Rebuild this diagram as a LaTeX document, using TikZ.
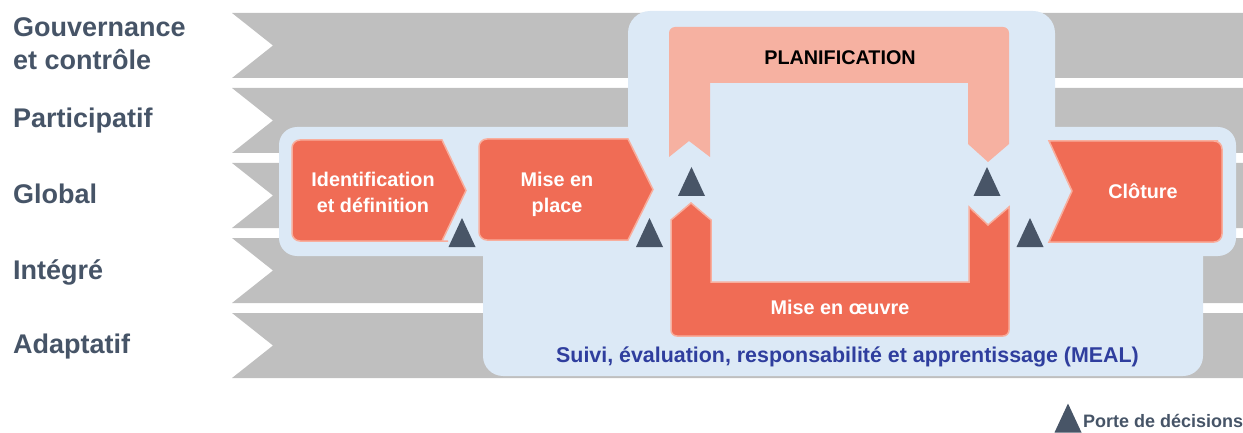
\documentclass[tikz,border=0pt]{standalone}
\usepackage{fontspec}
\setmainfont{Liberation Sans}
\definecolor{bandgray}{HTML}{BFBFBF}
\definecolor{bgblue}{HTML}{DCE9F6}
\definecolor{coral}{HTML}{F06C55}
\definecolor{coralborder}{HTML}{F8AE9D}
\definecolor{salmon}{HTML}{F6B1A1}
\definecolor{gatecol}{HTML}{485567}
\definecolor{labelcol}{HTML}{465467}
\definecolor{mealcol}{HTML}{2F3E9E}
\newcommand\gatetri[2]{\fill[gate] ({#1-13.5},#2) -- ({#1+13.5},#2) -- (#1,{#2-29}) -- cycle;}
\newcommand\grayband[1]{\fill[band] (232,#1) -- (1243,#1) -- (1243,{#1+65}) -- (232,{#1+65}) -- (273,{#1+32.5}) -- cycle;}
\begin{document}
\begin{tikzpicture}[x=1pt,y=-1pt,
  band/.style={fill=bandgray},
  bluebg/.style={fill=bgblue},
  phase/.style={fill=coral, draw=coralborder, line width=1.5pt, line join=miter},
  plan/.style={fill=salmon},
  gate/.style={fill=gatecol},
  lbl/.style={anchor=base west, inner sep=0, text=labelcol, font=\fontsize{27}{32}\selectfont\bfseries},
  ptxt/.style={anchor=base, inner sep=0, text=white, font=\fontsize{19.8}{24}\selectfont\bfseries},
  btxt/.style={anchor=base, inner sep=0, text=black, font=\fontsize{19.8}{24}\selectfont\bfseries},
  mtxt/.style={anchor=base, inner sep=0, text=mealcol, font=\fontsize{21.4}{26}\selectfont\bfseries},
  legtxt/.style={anchor=base west, inner sep=0, text=labelcol, font=\fontsize{18}{22}\selectfont\bfseries}]
\useasboundingbox (0,0) rectangle (1243,433);

% gray bands
\grayband{13}
\grayband{88}
\grayband{163}
\grayband{238}
\grayband{313}

% left labels
\node[lbl] (gov1) at (13,37) {Gouvernance};
\node[lbl] (gov2) at (13,70) {et contrôle};
\node[lbl] (part) at (13,128) {Participatif};
\node[lbl] (glob) at (13,204) {Global};
\node[lbl] (integ) at (13,279) {Intégré};
\node[lbl] (adapt) at (13,353) {Adaptatif};

% light blue background
\fill[bluebg, rounded corners=22] (628,11) rectangle (1055,200);
\fill[bluebg, rounded corners=18] (279,127) rectangle (1236,256);
\fill[bluebg, rounded corners=20] (483,200) rectangle (1203,376);

% planification
\fill[plan] (689,141) -- (669,157) -- (669,40) [rounded corners=6] -- (669,27) -- (1009,27) -- (1009,40) [sharp corners] -- (1009,144) -- (988,162) -- (968,144) -- (968,83) -- (710,83) -- (710,157) -- cycle;
\node[btxt] (plantxt) at (840,65) {PLANIFICATION};

% mise en oeuvre
\draw[phase] (691,203) -- (711,220) -- (711,282) -- (969,282) -- (969,207) -- (988,225) -- (1009,207) -- (1009,325) [rounded corners=6] -- (1009,336) -- (671,336) -- (671,325) [sharp corners] -- (671,220) -- cycle;
\node[ptxt] (oeuvre) at (840,314) {Mise en œuvre};

% identification
\draw[phase] (466,190.5) -- (442,140) -- (440,140) [rounded corners=8] -- (292,140) -- (292,241) -- (440,241) [sharp corners] -- (442,241) -- cycle;
\node[ptxt] (id1) at (373,186) {Identification};
\node[ptxt] (id2) at (373,212) {et définition};

% mise en place
\draw[phase] (653,189.5) -- (628,139) -- (620,139) [rounded corners=8] -- (479,139) -- (479,240) -- (620,240) [sharp corners] -- (628,240) -- cycle;
\node[ptxt] (mp1) at (557,186) {Mise en};
\node[ptxt] (mp2) at (557,212) {place};

% cloture
\draw[phase] (1049,141) -- (1072,191) -- (1049,242) -- (1210,242) [rounded corners=8] -- (1222,242) -- (1222,141) -- (1210,141) [sharp corners] -- cycle;
\node[ptxt] (clot) at (1143,199) {Clôture};

% MEAL
\node[mtxt] (meal) at (847.5,362) {Suivi, évaluation, responsabilité et apprentissage (MEAL)};

% decision gates
\gatetri{462}{247}
\gatetri{649.5}{247}
\gatetri{691.5}{196}
\gatetri{987}{196}
\gatetri{1030}{247}

% legend
\gatetri{1068}{432.5}
\node[legtxt] (leg) at (1083,427) {Porte de décisions};
\end{tikzpicture}
\end{document}
